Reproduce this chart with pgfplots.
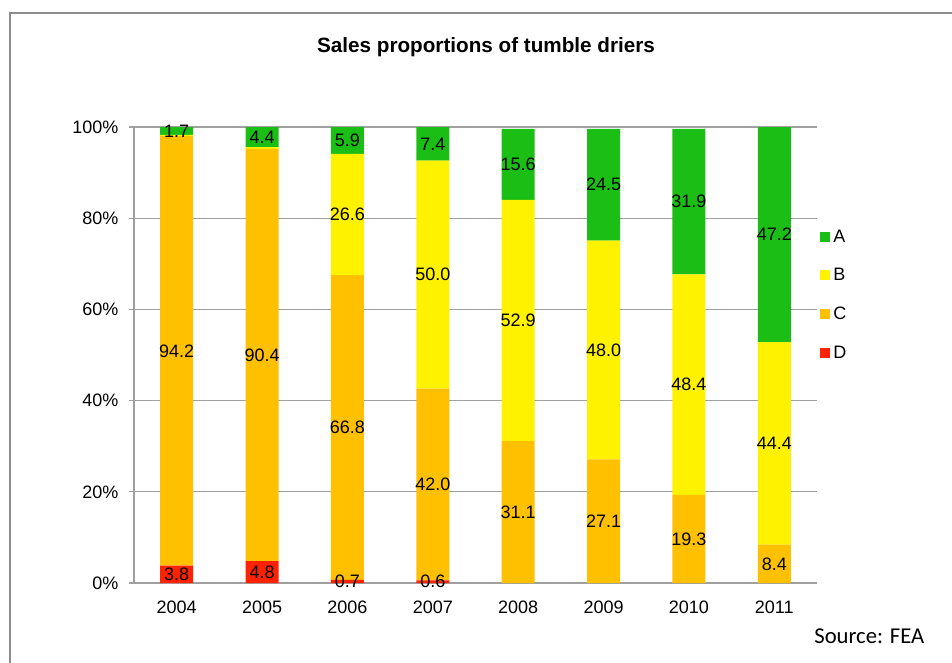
\documentclass[border=0pt]{standalone}
\usepackage{pgfplots}
\pgfplotsset{compat=1.18}
\usepackage{fontspec}
\setmainfont{Liberation Sans}
\newfontfamily\calibri{Carlito}
\definecolor{cA}{HTML}{1BBE15}
\definecolor{cB}{HTML}{FFF200}
\definecolor{cC}{HTML}{FFC000}
\definecolor{cD}{HTML}{FF2200}
\definecolor{axgray}{HTML}{A0A0A0}
\definecolor{framegray}{HTML}{8C8C8C}
\newcommand{\fs}{\fontsize{13.5}{16}\selectfont}
\begin{document}
\begin{tikzpicture}
\useasboundingbox (0,0) rectangle (714pt,496.5pt);
\draw[framegray, line width=1.4pt] (7.5pt,-10pt) -- (7.5pt,486.75pt) -- (730pt,486.75pt);
\node[font=\fontsize{15.5}{18}\selectfont\bfseries] at (364.5pt,461.25pt) {Sales proportions of tumble driers};
\node[font=\calibri\fontsize{17}{20}\selectfont] at (652pt,19.5pt) {Source: FEA};
\begin{axis}[
  at={(100.5pt,59.25pt)}, anchor=south west,
  scale only axis, width=512.25pt, height=342pt,
  ybar stacked, bar width=24.75pt,
  xmin=-0.5, xmax=7.5, ymin=0, ymax=100,
  axis x line*=bottom, axis y line*=left,
  axis line style={axgray, line width=1pt},
  xtick={0,...,7},
  xticklabels={2004,2005,2006,2007,2008,2009,2010,2011},
  minor xtick={-0.5,0.5,...,7.5},
  ytick={0,20,40,60,80,100},
  yticklabels={0\%,20\%,40\%,60\%,80\%,100\%},
  tick align=outside,
  major tick length=3.75pt, minor tick length=3.75pt,
  xtick style={draw=none},
  minor x tick style={axgray, line width=1pt},
  ytick style={axgray, line width=1pt},
  ymajorgrids, major grid style={axgray, line width=1pt},
  /pgf/number format/assume math mode=true,
  tick label style={font=\fs, black},
  xticklabel style={yshift=-6.5pt},
  yticklabel style={xshift=-4.5pt},
  reverse legend,
  legend style={at={(1,0.632)}, anchor=west, draw=none, fill=none,
    font=\fs, inner xsep=2pt, row sep=17pt,
    nodes={inner sep=0pt, text height=10pt, text depth=2pt}},
  legend cell align=left,
  /tikz/every odd column/.append style={column sep=2.5pt},
  legend image code/.code={\fill (0pt,-3.75pt) rectangle (7.5pt,3.75pt);},
]
\addplot[fill=cD, draw=none] coordinates {(0,3.8) (1,4.8) (2,0.7) (3,0.6) (4,0) (5,0) (6,0) (7,0)};
\addplot[fill=cC, draw=none] coordinates {(0,94.2) (1,90.4) (2,66.8) (3,42.0) (4,31.1) (5,27.1) (6,19.3) (7,8.4)};
\addplot[fill=cB, draw=none] coordinates {(0,0.3) (1,0.4) (2,26.6) (3,50.0) (4,52.9) (5,48.0) (6,48.4) (7,44.4)};
\addplot[fill=cA, draw=none] coordinates {(0,1.7) (1,4.4) (2,5.9) (3,7.4) (4,15.6) (5,24.5) (6,31.9) (7,47.2)};
\legend{D,C,B,A}
\end{axis}
\begin{axis}[
  at={(100.5pt,59.25pt)}, anchor=south west,
  scale only axis, width=512.25pt, height=342pt,
  xmin=-0.5, xmax=7.5, ymin=0, ymax=100,
  hide axis,
  nodes near coords, nodes near coords align={center},
  every node near coord/.append style={font=\fs, black, inner sep=0pt},
  point meta=explicit symbolic,
]
\addplot[draw=none, mark=none] coordinates {
 (0,1.9)[3.8] (0,50.9)[94.2] (0,99.15)[1.7]
 (1,2.4)[4.8] (1,50.0)[90.4] (1,97.8)[4.4]
 (2,0.35)[0.7] (2,34.1)[66.8] (2,80.8)[26.6] (2,97.05)[5.9]
 (3,0.3)[0.6] (3,21.6)[42.0] (3,67.6)[50.0] (3,96.3)[7.4]
 (4,15.55)[31.1] (4,57.55)[52.9] (4,91.8)[15.6]
 (5,13.55)[27.1] (5,51.1)[48.0] (5,87.35)[24.5]
 (6,9.65)[19.3] (6,43.5)[48.4] (6,83.65)[31.9]
 (7,4.2)[8.4] (7,30.6)[44.4] (7,76.4)[47.2]
};
\end{axis}
\end{tikzpicture}
\end{document}
